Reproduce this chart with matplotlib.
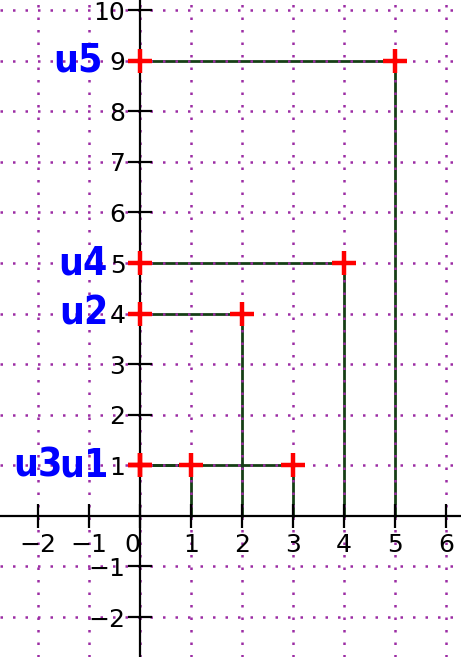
import matplotlib
matplotlib.use("Agg")
import matplotlib.pyplot as plt

# sequence terms u(n)
n = [1, 2, 3, 4, 5]
u = [1, 4, 1, 5, 9]
names = ["u1", "u2", "u3", "u4", "u5"]
xticks = [-2, -1, 0, 1, 2, 3, 4, 5, 6]
yticks = [-2, -1, 1, 2, 3, 4, 5, 6, 7, 8, 9, 10]

fig = plt.figure(figsize=(4.61, 6.57), dpi=100)
ax = fig.add_axes([0, 0, 1, 1])
ax.set_xlim(-2.745, 6.29)
ax.set_ylim(-2.79, 10.2)

green = "#163f16"
for k, v in zip(n, u):
    ax.plot([0, k], [v, v], color=green, lw=2, zorder=1)
    ax.plot([k, k], [0, v], color=green, lw=2, zorder=1)

ax.plot(n, u, "+", color="red", ms=17, mew=3.2, zorder=4, clip_on=False)
ax.plot([0] * len(u), u, "+", color="red", ms=17, mew=3.2, zorder=4, clip_on=False)

# names of the terms, left of the y axis
offsets = {"u1": -22.5, "u2": -23, "u3": -56, "u4": -23, "u5": -27}
for name, v in zip(names, u):
    ax.annotate(name, xy=(0, v), xytext=(offsets[name], 0),
                textcoords="offset points", ha="right", va="center",
                color="blue", fontsize=28, fontweight="bold",
                fontstretch="condensed")

for s in ["top", "right"]:
    ax.spines[s].set_visible(False)
for s in ["left", "bottom"]:
    ax.spines[s].set_position(("data", 0))
    ax.spines[s].set_linewidth(1.6)

ax.set_xticks(xticks)
ax.set_yticks(yticks)
ax.set_xticklabels([f"{t}".replace("-", "\u2212") for t in xticks])
ax.set_yticklabels([f"{t}".replace("-", "\u2212") for t in yticks])
ax.tick_params(direction="inout", length=17, width=1.6, labelsize=18, pad=2)
ax.tick_params(axis="x", pad=4)
for lab in ax.get_xticklabels():
    if lab.get_text() == "0":
        lab.set_horizontalalignment("right")

ax.grid(True, color="#9c2ca4", linestyle=(0, (1, 4)), lw=1.8)

fig.savefig("out.png", dpi=100)
